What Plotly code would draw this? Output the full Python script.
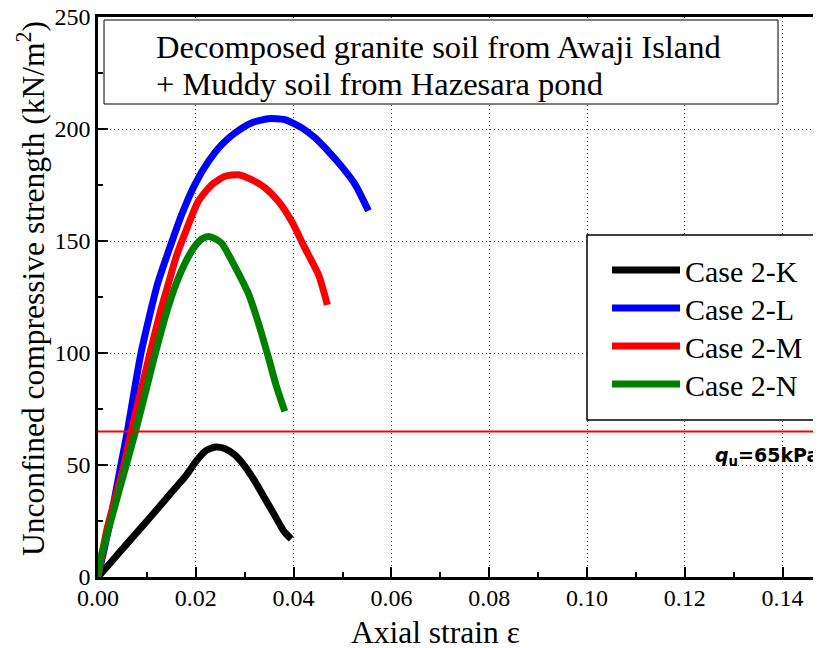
import plotly.graph_objects as go

# ---- data ----
case_names = ["Case 2-K", "Case 2-L", "Case 2-M", "Case 2-N"]
case_colors = ["#000000", "#0000FF", "#FF0000", "#008000"]

k_strain = [0, 0.003, 0.006, 0.009, 0.012, 0.015, 0.018, 0.020, 0.022, 0.024,
            0.026, 0.028, 0.030, 0.032, 0.034, 0.036, 0.038, 0.0395]
k_qu = [0, 7.5, 15, 22.5, 30, 37.7, 45.3, 51.5, 56.3, 58,
        57.3, 54.5, 49.5, 43, 35.5, 28, 20.5, 17]

l_strain = [0, 0.0025, 0.0046, 0.006, 0.0088, 0.0122, 0.0150, 0.0171, 0.0198, 0.0226,
            0.0253, 0.028, 0.0314, 0.0348, 0.0382, 0.0417, 0.0444, 0.0471, 0.0498,
            0.0526, 0.0553]
l_qu = [0, 25, 49, 65, 100, 131, 149, 161.7, 175.2, 185.6,
        193, 198.2, 202.7, 204.6, 204.2, 200.5, 196, 190, 183.3,
        175.2, 163.5]

m_strain = [0, 0.0018, 0.0052, 0.0068, 0.0104, 0.0127, 0.0144, 0.0160, 0.0178, 0.0205,
            0.0233, 0.026, 0.0287, 0.0314, 0.0342, 0.0369, 0.0396, 0.0423, 0.0451, 0.0469]
m_qu = [0, 21, 49, 65, 98, 118, 131, 143, 153.5, 167.7,
        175.2, 178.9, 179.6, 177.4, 173.7, 167.7, 158.8, 146.9, 134.9, 121.5]

n_strain = [0, 0.0005, 0.002, 0.0045, 0.0078, 0.0115, 0.0140, 0.0160, 0.0180, 0.0198,
            0.0213, 0.0226, 0.0240, 0.0253, 0.0280, 0.0307, 0.0328, 0.0348, 0.0365, 0.0382]
n_qu = [0, 8, 20, 40, 66, 98, 118, 131, 141, 147.6,
        151, 152, 151, 149, 138.6, 126.8, 113.4, 98.4, 85, 73.9]

qu_limit = 65
x_ticks = [0.00, 0.02, 0.04, 0.06, 0.08, 0.10, 0.12, 0.14]
y_ticks = [0, 50, 100, 150, 200, 250]

SERIF = "Liberation Serif, Times New Roman, serif"

# page body has an 8px margin: figure is drawn at (8, 8)
PW, PH = 723, 560          # plot area size in px
def px_x(p):               # reference page x -> paper x
    return (p - 98) / PW
def px_y(p):               # reference page y -> paper y
    return (577 - p) / PH

fig = go.Figure()
series = [(k_strain, k_qu), (l_strain, l_qu), (m_strain, m_qu), (n_strain, n_qu)]
legend_ids = ["legend", "legend2", "legend3", "legend4"]
for (xs, ys), name, col, lg in zip(series, case_names, case_colors, legend_ids):
    fig.add_trace(go.Scatter(x=xs, y=ys, mode="lines", name=name, legend=lg,
                             line=dict(color=col, width=7, shape="spline", smoothing=0.6)))

fig.add_hline(y=qu_limit, line=dict(color="#FF0000", width=2), layer="above")

# title box
fig.add_shape(type="rect", xref="paper", yref="paper",
              x0=px_x(104), x1=px_x(778), y0=px_y(104), y1=px_y(20),
              line=dict(color="black", width=1), fillcolor="white", layer="above")
fig.add_annotation(xref="paper", yref="paper", x=px_x(154), y=px_y(47),
                   xanchor="left", yanchor="middle", showarrow=False,
                   text="Decomposed granite soil from Awaji Island",
                   font=dict(family=SERIF, size=32.5, color="black"))
fig.add_annotation(xref="paper", yref="paper", x=px_x(154), y=px_y(84),
                   xanchor="left", yanchor="middle", showarrow=False,
                   text="+ Muddy soil from Hazesara pond",
                   font=dict(family=SERIF, size=32.5, color="black"))

# legend box
fig.add_shape(type="rect", xref="paper", yref="paper",
              x0=px_x(587), x1=1.02, y0=px_y(420), y1=px_y(235),
              line=dict(color="black", width=1.5), fillcolor="white", layer="above")

fig.add_annotation(xref="paper", yref="y", x=1.0, y=54, xanchor="right", yanchor="middle",
                   showarrow=False,
                   text="<b><i>q</i><sub>u</sub>=65kPa</b>",
                   font=dict(family="DejaVu Sans, Arial, sans-serif", size=19, color="black"))

# axis titles as annotations
fig.add_annotation(xref="paper", yref="paper", x=px_x(435), y=px_y(632),
                   xanchor="center", yanchor="middle", showarrow=False,
                   text="Axial strain ε",
                   font=dict(family=SERIF, size=31.5, color="black"))
fig.add_annotation(xref="paper", yref="paper", x=px_x(31), y=px_y(289),
                   xanchor="center", yanchor="middle", showarrow=False, textangle=-90,
                   text="Unconfined compressive strength (kN/m<sup>2</sup>)",
                   font=dict(family=SERIF, size=31.5, color="black"))

axis_common = dict(showline=True, linecolor="black", linewidth=2.5,
                   ticks="inside", ticklen=10, tickwidth=2, tickcolor="black",
                   showgrid=True, gridcolor="#444444", griddash="1px,3px", gridwidth=1,
                   zeroline=False, ticklabeloverflow="allow",
                   tickfont=dict(family=SERIF, size=24, color="black"))

fig.update_xaxes(range=[0, 0.14785], tickvals=x_ticks,
                 ticktext=[f"{v:.2f}" for v in x_ticks], mirror=True,
                 ticklabelstandoff=-3,
                 minor=dict(dtick=0.01, ticklen=5, tickwidth=2, ticks="inside",
                            tickcolor="black", showgrid=False),
                 **axis_common)
fig.update_yaxes(range=[0, 250], tickvals=y_ticks,
                 ticktext=[str(v) for v in y_ticks],
                 minor=dict(dtick=25, ticklen=5, tickwidth=2, ticks="inside",
                            tickcolor="black", showgrid=False),
                 **axis_common)

legend_style = dict(xanchor="left", yanchor="top", x=px_x(607),
                    bgcolor="rgba(0,0,0,0)", borderwidth=0,
                    font=dict(family=SERIF, size=30, color="black"),
                    itemwidth=68)
item_centers = [272, 310, 348, 386]
fig.update_layout(
    width=813, height=640,
    margin=dict(l=90, r=0, t=9, b=71, autoexpand=False),
    plot_bgcolor="white", paper_bgcolor="white",
    showlegend=True,
    **{lg: dict(y=px_y(c - 28), **legend_style) for lg, c in zip(legend_ids, item_centers)}
)

fig.write_html("out.html")
